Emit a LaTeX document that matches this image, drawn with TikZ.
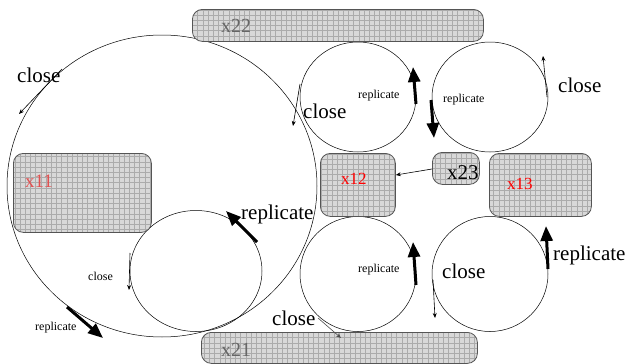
\documentclass[tikz,border=0pt]{standalone}
\usepackage{fontspec}
\setmainfont{Liberation Serif}
\usetikzlibrary{arrows.meta,shapes.geometric}
\definecolor{panelfill}{HTML}{D8D8D8}
\definecolor{panelgrid}{HTML}{ABABAB}
\definecolor{paneledge}{HTML}{555555}
\definecolor{softred}{HTML}{E05050}
\tikzset{
  panel/.style={draw=paneledge, line width=0.8pt, fill=panelfill, rounded corners=10pt,
    inner sep=0pt, anchor=north west,
    path picture={\draw[panelgrid, line width=0.25pt]
      (path picture bounding box.south west) grid[step=5.2pt]
      (path picture bounding box.north east);}},
  ring/.style={draw, ellipse, line width=0.5pt, inner sep=0pt},
  thin/.style={line width=0.6pt, -{Stealth[length=5pt,width=4pt]}},
  thick/.style={line width=3pt, -{Triangle[length=15pt,width=12pt]}},
  big/.style={font=\fontsize{21}{21}\selectfont, inner sep=0pt},
  small/.style={font=\fontsize{12}{12}\selectfont, inner sep=0pt},
}
\begin{document}
\begin{tikzpicture}[x=1pt,y=-1pt]
\useasboundingbox (0,0) rectangle (627,364);

% circles
\node[ring, minimum width=310, minimum height=302] (big) at (162,186) {};
\node[ring, minimum width=132, minimum height=121] (inner) at (196,271) {};
\node[ring, minimum width=116, minimum height=110] (tm) at (358,97) {};
\node[ring, minimum width=116, minimum height=110] (tr) at (490,97) {};
\node[ring, minimum width=116, minimum height=115] (bm) at (358,274) {};
\node[ring, minimum width=116, minimum height=115] (br) at (490,274) {};

% panels
\node[panel, minimum width=291, minimum height=32] (p22) at (192,9) {};
\node[panel, minimum width=138, minimum height=79] (p11) at (13,153) {};
\node[panel, minimum width=75, minimum height=63] (p12) at (320,153) {};
\node[panel, minimum width=47, minimum height=32] (p23) at (432,152) {};
\node[panel, minimum width=102, minimum height=63] (p13) at (489,153) {};
\node[panel, minimum width=276, minimum height=31] (p21) at (201,332) {};

% panel labels
\node[big, font=\fontsize{20}{20}\selectfont, text=black!60, anchor=west] (t22) at (221,26) {x22};
\node[big, font=\fontsize{19}{19}\selectfont, text=softred, anchor=west] (t11) at (25,181) {x11};
\node[text=red, font=\fontsize{17}{17}\selectfont, inner sep=0pt, anchor=west] (t12) at (341,179) {x12};
\node[big, anchor=west] (t23) at (447,173) {x23};
\node[text=red, font=\fontsize{17}{17}\selectfont, inner sep=0pt, anchor=west] (t13) at (507,184) {x13};
\node[big, font=\fontsize{20}{20}\selectfont, text=black!60, anchor=west] (t21) at (221,350) {x21};

% arrow end points
\coordinate (a1s) at (62,69);   \coordinate (a1e) at (19,114);
\coordinate (a2s) at (300,84);  \coordinate (a2e) at (293,126);
\coordinate (a3s) at (416,104); \coordinate (a3e) at (413,67);
\coordinate (a4s) at (431,100); \coordinate (a4e) at (434,138);
\coordinate (a5s) at (547,97);  \coordinate (a5e) at (543,56);
\coordinate (a7s) at (257,242); \coordinate (a7e) at (226,211);
\coordinate (a8s) at (130,253); \coordinate (a8e) at (129,290);
\coordinate (a9s) at (67,307);  \coordinate (a9e) at (103,338);
\coordinate (a10s) at (416,285);\coordinate (a10e) at (413,242);
\coordinate (a11s) at (318,318);\coordinate (a11e) at (341,338);
\coordinate (a12s) at (433,280);\coordinate (a12e) at (435,318);
\coordinate (a13s) at (548,269);\coordinate (a13e) at (546,226);

% arrows
\draw[thin] (a1s) -- (a1e);
\draw[thin] (a2s) -- (a2e);
\draw[thick] (a3s) -- (a3e);
\draw[thick] (a4s) -- (a4e);
\draw[thin] (a5s) -- (a5e);
\draw[thin] (p23.west |- 0,169) -- (p12.east |- 0,175);
\draw[thick] (a7s) -- (a7e);
\draw[thin] (a8s) -- (a8e);
\draw[thick] (a9s) -- (a9e);
\draw[thick] (a10s) -- (a10e);
\draw[thin, draw=black!70] (a11s) -- (a11e);
\draw[thin] (a12s) -- (a12e);
\draw[thick] (a13s) -- (a13e);

% labels
\node[big, anchor=west] (l1) at (17,75) {close};
\node[big, anchor=west] (l2) at (303,111) {close};
\node[small, anchor=west] (l3) at (358,96) {replicate};
\node[small, anchor=west] (l4) at (443,100) {replicate};
\node[big, anchor=west] (l5) at (558,85) {close};
\node[big, anchor=west] (l7) at (241,214) {replicate};
\node[small, anchor=west] (l8) at (88,276) {close};
\node[small, anchor=west] (l9) at (35,328) {replicate};
\node[small, anchor=west] (l10) at (358,270) {replicate};
\node[big, anchor=west] (l11) at (272,318) {close};
\node[big, anchor=west] (l12) at (442,271) {close};
\node[big, anchor=west] (l13) at (553,255) {replicate};
\end{tikzpicture}
\end{document}
